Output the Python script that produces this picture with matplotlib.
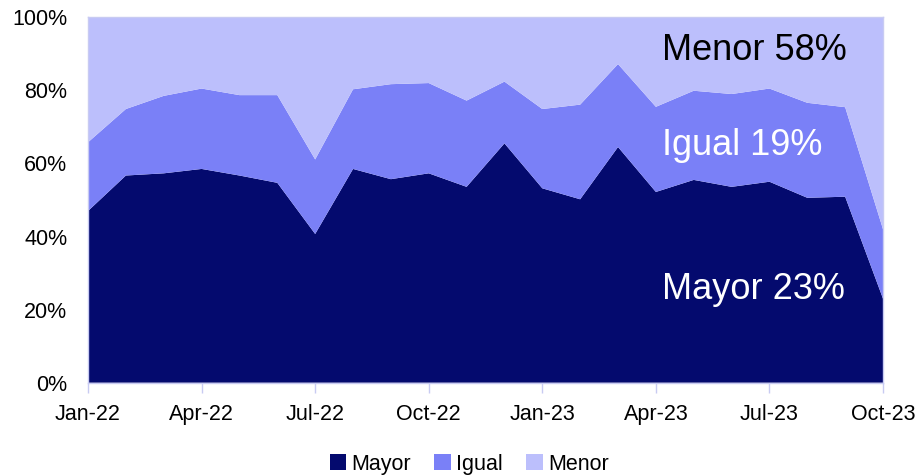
import matplotlib.pyplot as plt
import numpy as np

plt.rcParams['font.family'] = ['Liberation Sans', 'DejaVu Sans']

# meses
months = ['Jan-22', 'Feb-22', 'Mar-22', 'Apr-22', 'May-22', 'Jun-22', 'Jul-22',
          'Aug-22', 'Sep-22', 'Oct-22', 'Nov-22', 'Dec-22', 'Jan-23', 'Feb-23',
          'Mar-23', 'Apr-23', 'May-23', 'Jun-23', 'Jul-23', 'Aug-23', 'Sep-23',
          'Oct-23']

mayor = [47.0, 56.7, 57.3, 58.5, 56.7, 54.7, 40.7, 58.5, 55.7, 57.3, 53.6,
         65.5, 53.2, 50.2, 64.5, 52.2, 55.5, 53.6, 55.0, 50.6, 50.9, 23.0]
igual = [18.8, 18.2, 21.2, 22.0, 22.0, 24.0, 20.4, 21.8, 26.0, 24.7, 23.6,
         16.9, 21.7, 25.9, 22.7, 23.3, 24.4, 25.4, 25.5, 26.0, 24.5, 19.0]
menor = [100 - a - b for a, b in zip(mayor, igual)]

colors = ['#040a6e', '#7a80f7', '#bcbffc']
labels = ['Mayor', 'Igual', 'Menor']

x = np.arange(len(months))

fig = plt.figure(figsize=(9.2, 4.75), dpi=100)
ax = fig.add_axes([0.0957, 0.1943, 0.8641, 0.7693])

ax.stackplot(x, mayor, igual, menor, colors=colors, labels=labels, linewidth=0)

ax.set_xlim(0, len(months) - 1)
ax.set_ylim(0, 100)
ax.set_yticks(range(0, 101, 20))
ax.set_yticklabels([f'{v}%' for v in range(0, 101, 20)])
ax.set_xticks(x[::3])
ax.set_xticklabels(months[::3])

edge = '#c8cbf2'
for s in ax.spines.values():
    s.set_color(edge)
    s.set_linewidth(1)
ax.tick_params(axis='x', length=7, width=1, color=edge, labelsize=15.5, pad=8)
ax.tick_params(axis='y', length=0, labelsize=15.5, pad=15)

# etiquetas del ultimo mes
ax.text(0.722, 0.91, f'Menor {round(menor[-1])}%', transform=ax.transAxes,
        fontsize=26, color='black', va='center', ha='left')
ax.text(0.722, 0.65, f'Igual {round(igual[-1])}%', transform=ax.transAxes,
        fontsize=26, color='white', va='center', ha='left')
ax.text(0.722, 0.255, f'Mayor {round(mayor[-1])}%', transform=ax.transAxes,
        fontsize=26, color='white', va='center', ha='left')

fig.legend(loc='lower center', bbox_to_anchor=(0.51, -0.04), ncol=3,
           frameon=False, fontsize=15.5, handlelength=0.75, handleheight=0.75,
           handletextpad=0.25, columnspacing=1.1)

fig.savefig('out.png', dpi=100)
